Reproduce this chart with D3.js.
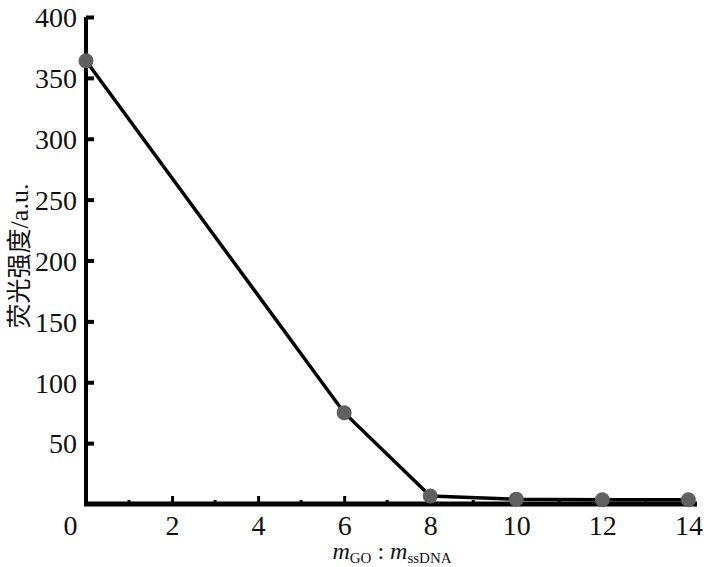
<!DOCTYPE html>
<html><head><meta charset="utf-8">
<script src="https://cdn.jsdelivr.net/npm/d3@7"></script>
<style>body{margin:0;background:#fff;} svg{display:block;} text{font-family:"Liberation Serif","Times New Roman",Tinos,"DejaVu Serif",serif;}</style>
</head><body>
<script>
const ratios = [0, 6, 8, 10, 12, 14];
const intensity = [364, 75, 6.5, 4, 3.5, 3.5];
const xTicks = [0, 2, 4, 6, 8, 10, 12, 14];
const xMinor = [1, 3, 5, 7, 9, 11, 13];
const yTicks = [50, 100, 150, 200, 250, 300, 350, 400];

const W = 708, H = 567;
const svg = d3.select("body").append("svg").attr("width", W).attr("height", H);
const x = d3.scaleLinear().domain([0, 14.2]).range([86, 697]);
const y = d3.scaleLinear().domain([0, 400]).range([504, 17]);

const SERIF = '"Liberation Serif","Times New Roman",Tinos,"DejaVu Serif",serif';

// Y axis
const ya = svg.append("g").attr("transform", `translate(${x(0)},0)`)
  .call(d3.axisLeft(y).tickValues(yTicks).tickSize(-8).tickSizeOuter(0).tickPadding(9));
ya.attr("font-family", SERIF);
ya.select(".domain").attr("stroke", "#000").attr("stroke-width", 4).attr("d", `M0,${y(0)+2}V${y(400)}`);
ya.selectAll(".tick line").attr("stroke", "#000").attr("stroke-width", 4);
ya.selectAll(".tick text").attr("font-family", SERIF).style("font-family", SERIF).attr("font-size", 28).attr("fill", "#111").attr("dy", "0.35em");

// X axis
const xa = svg.append("g").attr("transform", `translate(0,${y(0)})`)
  .call(d3.axisBottom(x).tickValues(xTicks).tickSize(-8).tickSizeOuter(0).tickPadding(6));
xa.attr("font-family", SERIF);
xa.select(".domain").attr("stroke", "#000").attr("stroke-width", 5).attr("d", `M${x(0)-2},0H${x(14.2)}`);
xa.selectAll(".tick line").attr("stroke", "#000").attr("stroke-width", 3).attr("y1", -2);
xa.selectAll(".tick text").attr("font-family", SERIF).style("font-family", SERIF).attr("font-size", 28).attr("fill", "#111")
  .attr("dx", d => d === 0 ? -16 : 0).attr("dy", "0.9em");
xa.selectAll(".tick").filter(d => d === 0).select("line").remove();
xa.selectAll(".minor").data(xMinor).enter().append("line")
  .attr("x1", d => x(d)).attr("x2", d => x(d)).attr("y1", 0).attr("y2", -4)
  .attr("stroke", "#000").attr("stroke-width", 3);

// line
const pts = ratios.map((r, i) => [r, intensity[i]]);
svg.append("path").datum(pts)
  .attr("d", d3.line().x(d => x(d[0])).y(d => y(d[1])))
  .attr("fill", "none").attr("stroke", "#000").attr("stroke-width", 3.5);

svg.selectAll(".pt").data(pts).enter().append("circle")
  .attr("cx", d => x(d[0])).attr("cy", d => y(d[1])).attr("r", 7.5)
  .attr("fill", "#606060");

// Y label
const yl = svg.append("text")
  .attr("transform", `translate(28,256) rotate(-90)`)
  .attr("text-anchor", "middle")
  .attr("font-size", 25).attr("fill", "#111");
yl.append("tspan").style("font-family", '"Noto Sans CJK SC",sans-serif').text("荧光强度");
yl.append("tspan").style("font-family", SERIF).attr("font-size", 26).text("/a.u.");

// X label
const xl = svg.append("text").attr("x", 392).attr("y", 559).attr("text-anchor", "middle")
  .style("font-family", SERIF).attr("font-size", 24).attr("fill", "#111");
xl.append("tspan").attr("font-style", "italic").text("m");
xl.append("tspan").attr("font-size", 15).attr("dy", 4).text("GO");
xl.append("tspan").attr("dy", -4).text(" : ");
xl.append("tspan").attr("font-style", "italic").text("m");
xl.append("tspan").attr("font-size", 15).attr("dy", 4).text("ssDNA");
</script>
</body></html>
